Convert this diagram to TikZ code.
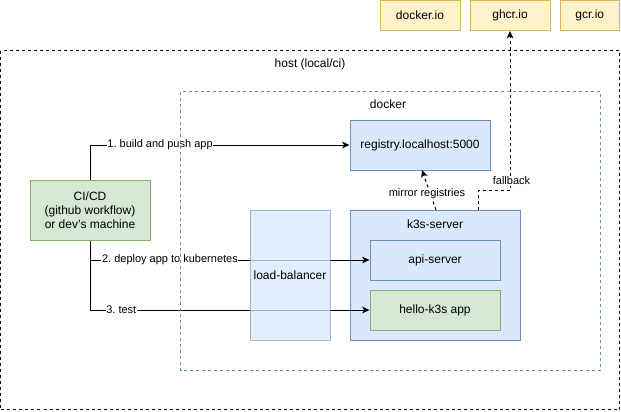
\documentclass[tikz,border=0pt]{standalone}
\usepackage{fontspec}
\setmainfont{Liberation Sans}
\usetikzlibrary{arrows.meta}
\frenchspacing
\definecolor{bluefill}{HTML}{DAE8FC}
\definecolor{bluestroke}{HTML}{6C8EBF}
\definecolor{greenfill}{HTML}{D5E8D4}
\definecolor{greenstroke}{HTML}{82B366}
\definecolor{yfill}{HTML}{FFF2CC}
\definecolor{ystroke}{HTML}{D6B656}
\tikzset{
  base/.style={draw, line width=0.75pt, inner sep=0pt, align=center, font=\fontsize{9}{10.5}\selectfont},
  bluebox/.style={base, fill=bluefill, draw=bluestroke},
  greenbox/.style={base, fill=greenfill, draw=greenstroke},
  yellowbox/.style={base, fill=yfill, draw=ystroke},
  conn/.style={line width=0.75pt, -{Stealth[length=5.5pt,width=5pt,inset=1.5pt]}},
  dconn/.style={conn, dash pattern=on 2.25pt off 2.25pt},
  elabel/.style={font=\fontsize{8.25}{9.5}\selectfont, fill=white, inner sep=0.5pt},
  plain/.style={font=\fontsize{9}{10.5}\selectfont, inner sep=0pt},
  hostframe/.style={draw=black, line width=0.75pt, dash pattern=on 2.25pt off 2.25pt},
  dockerframe/.style={draw=bluestroke, line width=0.75pt, dash pattern=on 2.25pt off 2.25pt},
}
\begin{document}
\begin{tikzpicture}[x=0.75pt,y=-0.75pt]
\useasboundingbox (0,0) rectangle (621,411);
% host frame
\draw[hostframe] (0.5,50.5) rectangle (619.5,409.5);
\node[plain] (hostlbl) at (310,64) {host (local/ci)};
% external registries
\node[yellowbox, minimum width=60pt, minimum height=22.5pt] (dockerio) at (420,15.5) {docker.io};
\node[yellowbox, minimum width=60pt, minimum height=22.5pt] (ghcr) at (510,15.5) {ghcr.io};
\node[yellowbox, minimum width=44.6pt, minimum height=22.5pt] (gcr) at (589.75,15.5) {gcr.io};
% registry
\node[bluebox, minimum width=105pt, minimum height=37.5pt] (registry) at (420,145) {registry.localhost:5000};
% CI/CD
\node[greenbox, minimum width=90pt, minimum height=45pt] (cicd) at (90,210) {CI/CD\\(github workflow)\\or dev's machine};
% k3s server
\node[bluebox, minimum width=127.5pt, minimum height=97.5pt] (k3s) at (435,275) {};
\node[plain] (k3slbl) at (435,224) {k3s-server};
\node[bluebox, minimum width=97.5pt, minimum height=30pt] (api) at (435,260) {api-server};
\node[greenbox, minimum width=97.5pt, minimum height=30pt] (hello) at (435,310) {hello-k3s app};
% connectors
\draw[conn] (cicd.north) |- (registry.west) node[elabel, pos=0.635] {1. build and push app};
\draw[conn] (cicd.south) |- (api.west) node[elabel, pos=0.643] {2. deploy app to kubernetes};
\draw[conn] (cicd.south) |- (hello.west) node[elabel, pos=0.556] {3. test};
\coordinate (mstart) at (436,210);
\coordinate (mend) at (422,170);
\draw[dconn] (mstart) -- (mend);
\node[elabel] (mlbl) at (427,194) {mirror registries};
\coordinate (fstart) at (478,210);
\coordinate (fbend) at (478,190.5);
\coordinate (fbend2) at (510,190.5);
\draw[dconn] (fstart) -- (fbend) -- (fbend2) -- (ghcr.south);
\node[elabel] (flbl) at (511.5,181) {fallback};
% docker frame
\draw[dockerframe] (180.5,91.5) rectangle (600.5,370);
\node[plain] (dockerlbl) at (388,104) {docker};
% load balancer (semi-transparent, on top)
\node[base, fill=bluefill, draw=bluestroke, fill opacity=0.75, draw opacity=0.6, text opacity=1, minimum width=60pt, minimum height=97.5pt] (lb) at (290,275) {load-balancer};
\end{tikzpicture}
\end{document}
